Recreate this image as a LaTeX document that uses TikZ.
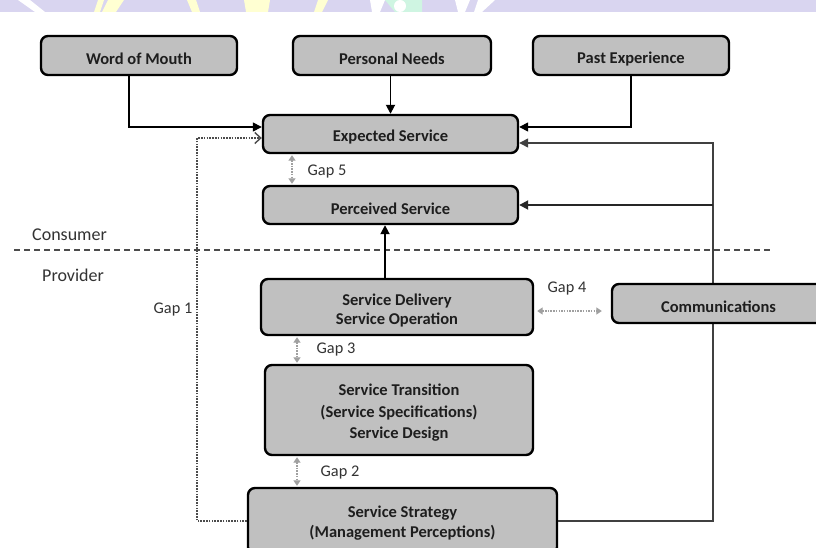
\documentclass[tikz,border=0pt]{standalone}
\usepackage{fontspec}
\setmainfont{Carlito}
\usetikzlibrary{arrows.meta}
\definecolor{boxfill}{HTML}{C0C0C0}
\definecolor{txt}{HTML}{1E1E1E}
\definecolor{lbltxt}{HTML}{333333}
\definecolor{gapc}{HTML}{A0A0A0}
\definecolor{lav}{HTML}{D9D5F0}
\definecolor{paley}{HTML}{FFFFD2}
\definecolor{mint}{HTML}{CFF5E2}
\begin{document}
\begin{tikzpicture}[x=1pt,y=-1pt,
  box/.style={draw=black, line width=2.4pt, fill=boxfill, rounded corners=7pt, inner sep=0pt},
  boxtxt/.style={font=\bfseries\fontsize{16.5}{20}\selectfont, text=txt, align=center, inner sep=0pt},
  conn/.style={line width=1.8pt, -{Triangle[length=9pt,width=9pt]}},
  gap/.style={gapc, line width=1.5pt, dash pattern=on 1.5pt off 1.2pt,
    {Triangle[length=5.5pt,width=7pt]}-{Triangle[length=5.5pt,width=7pt]}},
  lbl/.style={font=\fontsize{16.3}{18}\selectfont, text=lbltxt, inner sep=0pt}]
\useasboundingbox (0,0) rectangle (816,548);
\clip (0,0) rectangle (816,548);
\fill[white] (0,0) rectangle (816,548);
% watermark band
\fill[lav] (0,0) rectangle (816,12);
\fill[white] (18,0) -- (30,0) -- (45,12) -- (35,12) -- cycle;
\fill[paley] (98,0) -- (104,0) -- (100,12) -- (94,12) -- cycle;
\fill[paley] (108,0) -- (124,0) -- (116,12) -- (102,12) -- cycle;
\fill[paley] (187,0) -- (196,0) -- (200,12) -- (192,12) -- cycle;
\fill[paley] (244,0) -- (270,0) -- (268,12) -- (246,12) -- cycle;
\fill[paley] (318,0) -- (328,0) -- (322,12) -- (314,12) -- cycle;
\fill[white] (370,0) -- (385,0) -- (380,12) -- (372,12) -- cycle;
\fill[mint] (385,0) -- (422,0) -- (422,12) -- (395,12) -- cycle;
\fill[white] (400,6) circle (6);
\fill[white] (455,0) -- (470,0) -- (465,12) -- (458,12) -- cycle;
\fill[white] (478,0) -- (495,0) -- (482,12) -- (474,12) -- cycle;

% boxes
\node[box, minimum width=196pt, minimum height=39pt] (wom) at (139,55.5) {};
\node[box, minimum width=198pt, minimum height=39pt] (pn) at (392,55.5) {};
\node[box, minimum width=196pt, minimum height=39pt] (pe) at (631,55.5) {};
\node[box, minimum width=255pt, minimum height=38pt] (exp) at (390.5,134) {};
\node[box, minimum width=255pt, minimum height=38pt] (per) at (390.5,205) {};
\node[box, minimum width=272pt, minimum height=56pt] (del) at (397,307) {};
\node[box, minimum width=268pt, minimum height=90pt] (st) at (399,410) {};
\node[box, minimum width=309pt, minimum height=66pt] (ss) at (402.5,521) {};

% right-hand feedback line (passes behind Communications)
\coordinate (R) at (713,0);
\coordinate (G) at (197,0);
\draw[conn, line width=1.4pt, black!75] (ss.east) -| ([yshift=-9pt]exp.east -| R) -- ([yshift=-9pt]exp.east);
\draw[conn, black!85] (per.east -| R) -- (per.east);
\node[box, minimum width=213pt, minimum height=39pt] (comm) at (718.5,303.5) {};

% box texts
\node[boxtxt] (womt) at ([yshift=-3.5pt]wom.center) {Word of Mouth};
\node[boxtxt] (pnt) at ([yshift=-3.5pt]pn.center) {Personal Needs};
\node[boxtxt] (pet) at ([yshift=-3.5pt]pe.center) {Past Experience};
\node[boxtxt] (expt) at ([yshift=-3.5pt]exp.center) {Expected Service};
\node[boxtxt] (pert) at ([yshift=-3.5pt]per.center) {Perceived Service};
\node[boxtxt, font=\bfseries\fontsize{16.5}{19}\selectfont] (delt) at ([yshift=-4pt]del.center) {Service Delivery\\Service Operation};
\node[boxtxt] (commt) at ([yshift=-3.5pt]comm.center) {Communications};
\node[boxtxt, font=\bfseries\fontsize{16.5}{21.5}\selectfont] (stt) at ([yshift=-3pt]st.center) {Service Transition\\(Service Specifications)\\Service Design};
\node[boxtxt] (sst) at ([yshift=-2.5pt]ss.center) {Service Strategy\\(Management Perceptions)};

% consumer / provider divider
\draw[black!70, line width=1.2pt, dash pattern=on 6pt off 4pt] (14,250) -- (770,250);
\node[lbl, anchor=west, font=\fontsize{18}{20}\selectfont] (cons) at (32,235) {Consumer};
\node[lbl, anchor=west, font=\fontsize{18}{20}\selectfont] (prov) at (42,275) {Provider};

% inputs to expected service
\draw[conn, line width=1.5pt] ([xshift=-10pt]wom.south) |- ([yshift=7pt]exp.west);
\draw[conn, line width=1.5pt] (pe.south) |- ([yshift=7pt]exp.east);
\draw[conn] ([xshift=-1.5pt]pn.south) -- ([xshift=-1.5pt]pn.south |- exp.north);

% delivery to perceived
\draw[conn] ([xshift=-12pt]del.north) -- ([xshift=-12pt]del.north |- per.south);

% gap 1
\draw[black!70, line width=1.4pt, dash pattern=on 1.6pt off 1.2pt, -{Straight Barb[length=6pt,width=11pt,line width=1.4pt]}]
  (ss.west) -| ([yshift=-4pt]exp.west -| G) -- ([yshift=-4pt]exp.west);
\node[lbl] (g1) at (173,310) {Gap 1};

% gaps
\draw[gap, shorten <=1pt, shorten >=1pt] ([xshift=-98.5pt]exp.south) -- ([xshift=-98.5pt]exp.south |- per.north);
\node[lbl] (g5) at (327,172) {Gap 5};
\draw[gap, shorten <=3pt, shorten >=9pt] ([yshift=-4pt]del.east) -- ([yshift=-4pt]del.east -| comm.west);
\node[lbl] (g4) at (567,289) {Gap 4};
\draw[gap, shorten <=1pt, shorten >=1pt] ([xshift=-100pt]del.south) -- ([xshift=-100pt]del.south |- st.north);
\node[lbl] (g3) at (336,350) {Gap 3};
\draw[gap, shorten <=1pt, shorten >=1pt] ([xshift=-102pt]st.south) -- ([xshift=-102pt]st.south |- ss.north);
\node[lbl] (g2) at (340,473) {Gap 2};
\end{tikzpicture}
\end{document}
